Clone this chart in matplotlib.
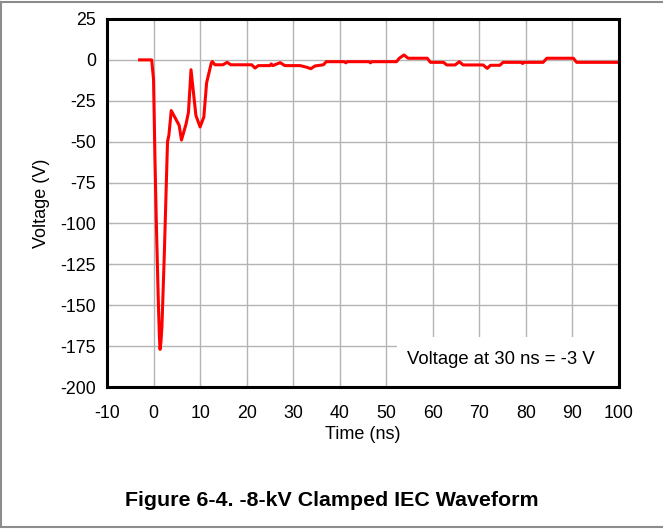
import numpy as np
import matplotlib
matplotlib.use("Agg")
import matplotlib.pyplot as plt
from matplotlib.lines import Line2D
from matplotlib.patches import Rectangle

plt.rcParams['font.family'] = ['Liberation Sans', 'DejaVu Sans']
plt.rcParams['axes.unicode_minus'] = False

# 波形数据 (ns, V)
time_ns = [-3.0, -0.4, 0.0, 0.3, 0.6, 1.0, 1.25, 1.4, 1.6, 1.8, 2.3, 2.7, 3.0, 3.3,
           3.8, 5.5, 6.0, 7.0, 7.5, 8.05, 9.1, 10.0, 10.8, 11.4, 12.4, 12.6,
           13.2, 14.9, 15.8, 16.6, 21.1, 21.8, 22.5, 25.0, 25.3, 25.6, 27.2, 28.2,
           31.5, 32.9, 33.8, 34.7, 36.5, 37.1, 41.0, 41.3, 41.6, 46.3, 46.6, 46.9,
           52.2, 52.8, 53.8, 54.7, 58.8, 59.5, 62.3, 63.0, 64.8, 65.7, 66.5,
           70.8, 71.7, 72.4, 74.4, 75.1, 79.0, 79.3, 79.6, 83.7, 84.5, 90.2, 90.9, 100.0]
voltage = [0.0, 0.0, -12.0, -60.0, -100.0, -145.0, -169.0, -177.0, -172.0, -163.0, -120.0, -80.0, -50.0, -46.0,
           -31.0, -40.0, -49.0, -39.0, -32.0, -6.0, -34.0, -41.0, -35.0, -14.0, -2.0, -1.0,
           -3.0, -3.0, -1.5, -3.0, -3.0, -5.0, -3.5, -3.5, -2.5, -3.5, -1.7, -3.5,
           -3.5, -4.5, -5.4, -3.7, -3.0, -1.1, -1.1, -1.8, -1.1, -1.1, -1.8, -1.1,
           -1.1, 1.0, 3.0, 1.0, 1.0, -1.5, -1.5, -3.1, -3.1, -1.1, -3.1,
           -3.1, -5.2, -3.3, -3.3, -1.5, -1.5, -2.2, -1.5, -1.5, 1.0, 1.0, -1.5, -1.5]

x_ticks = [-10, 0, 10, 20, 30, 40, 50, 60, 70, 80, 90, 100]
y_ticks = [25, 0, -25, -50, -75, -100, -125, -150, -175, -200]

fig = plt.figure(figsize=(6.63, 5.29), dpi=100)
ax = fig.add_axes([0.1614, 0.2684, 0.7722, 0.6957])

ax.plot(time_ns, voltage, color='#ff0000', lw=2.2, zorder=3)

ax.set_xlim(-10, 100)
ax.set_ylim(-200, 25)
ax.set_xticks(x_ticks)
ax.set_yticks(y_ticks)
ax.grid(True, color='#b4b4b4', lw=1.0)
ax.set_axisbelow(True)
ax.tick_params(direction='in', length=4, color='#b4b4b4', labelsize=12.8,
               top=True, right=True)
ax.tick_params(axis='x', pad=13)
ax.tick_params(axis='y', pad=8)
for s in ax.spines.values():
    s.set_linewidth(2.2)
    s.set_color('black')
    s.set_zorder(4)

ax.set_xlabel('Time (ns)', fontsize=13, labelpad=3)
ax.set_ylabel('Voltage (V)', fontsize=13, labelpad=7)

# 注释框
ax.add_patch(Rectangle((0.566, 0.0), 0.434, 0.135, transform=ax.transAxes,
                       facecolor='white', edgecolor='none', zorder=2))
ax.text(0.77, 0.075, 'Voltage at 30 ns = -3 V', transform=ax.transAxes,
        ha='center', va='center', fontsize=13.3, zorder=3)

fig.text(0.5, 0.054, 'Figure 6-4. -8-kV Clamped IEC Waveform', ha='center', va='center',
         fontsize=15.4, fontweight='bold')

# 外框
gray = '#8c8c8c'
fig.add_artist(Line2D([0, 1], [0.997, 0.997], color=gray, lw=1.5, transform=fig.transFigure))
fig.add_artist(Line2D([0.0015, 0.0015], [0.004, 0.997], color=gray, lw=1.5, transform=fig.transFigure))
fig.add_artist(Line2D([0, 1], [0.004, 0.004], color=gray, lw=1.5, transform=fig.transFigure))

fig.savefig('out.png', dpi=100)
